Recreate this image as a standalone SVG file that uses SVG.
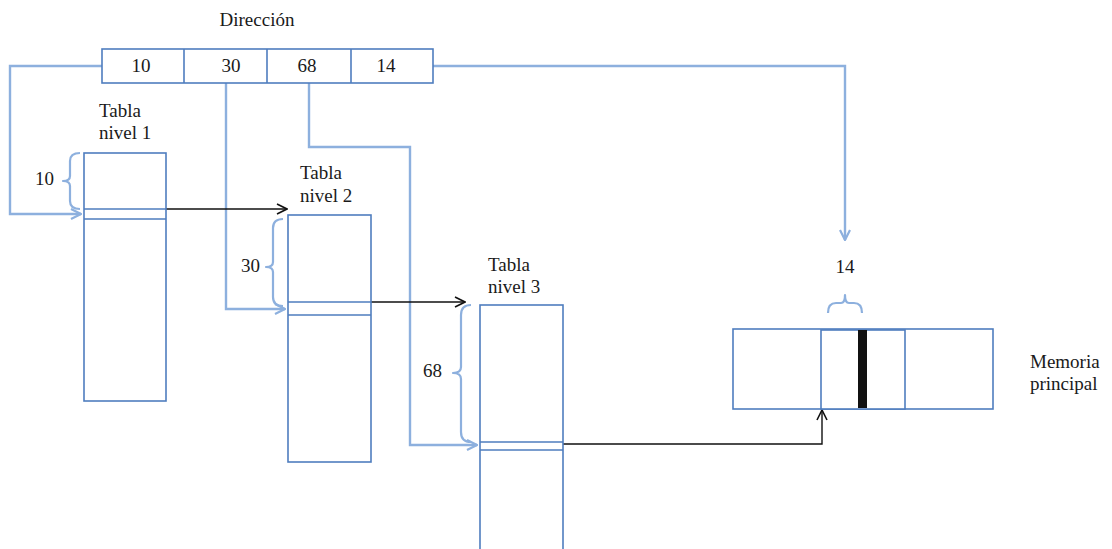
<svg xmlns="http://www.w3.org/2000/svg" width="1112" height="549" viewBox="0 0 1112 549">
  <style>
    text { font-family: "Liberation Serif", "Times New Roman", serif; font-size: 19px; fill: #1a1a1a; }
    .box { fill: #ffffff; stroke: #4f7dbf; stroke-width: 1.6; }
    .div { fill: none; stroke: #4f7dbf; stroke-width: 1.6; }
    .link { fill: none; stroke: #8db0de; stroke-width: 2.4; }
    .brace { fill: none; stroke: #8db0de; stroke-width: 2.2; stroke-linejoin: round; }
    .ptr { fill: none; stroke: #111111; stroke-width: 1.4; }
  </style>
  <defs>
    <marker id="headBlack" viewBox="0 0 12 12" refX="11" refY="6" markerWidth="12" markerHeight="12" markerUnits="userSpaceOnUse" orient="auto">
      <path d="M1,1 L11,6 L1,11" fill="none" stroke="#111111" stroke-width="1.6"/>
    </marker>
    <marker id="headBlue" viewBox="0 0 12 12" refX="11" refY="6" markerWidth="12" markerHeight="12" markerUnits="userSpaceOnUse" orient="auto">
      <path d="M1,1 L11,6 L1,11" fill="none" stroke="#8db0de" stroke-width="2.2"/>
    </marker>
  </defs>

  <rect width="1112" height="549" fill="#ffffff"/>

  <!-- connectors -->
  <g id="connectors">
    <!-- address fields to their tables / memory -->
    <path class="link" d="M102,66 H10 V214 H81" marker-end="url(#headBlue)"/>
    <path class="link" d="M226,83 V309 H285" marker-end="url(#headBlue)"/>
    <path class="link" d="M309,83 V147 H410 V445 H477" marker-end="url(#headBlue)"/>
    <path class="link" d="M433,66 H845 V240" marker-end="url(#headBlue)"/>
    <!-- table entries pointing to next level -->
    <path class="ptr" d="M162,209 H287" marker-end="url(#headBlack)"/>
    <path class="ptr" d="M354,302 H465" marker-end="url(#headBlack)"/>
    <path class="ptr" d="M563,444 H822 V410" marker-end="url(#headBlack)"/>
  </g>

  <!-- virtual address -->
  <g id="direccion">
    <text x="257" y="26" text-anchor="middle">Dirección</text>
    <rect class="box" x="102" y="49" width="331" height="34"/>
    <path class="div" d="M184,49 V83 M267,49 V83 M351,49 V83"/>
    <text x="141" y="72" text-anchor="middle">10</text>
    <text x="231" y="72" text-anchor="middle">30</text>
    <text x="307" y="72" text-anchor="middle">68</text>
    <text x="386" y="72" text-anchor="middle">14</text>
  </g>

  <!-- level 1 table -->
  <g id="tabla1">
    <text x="99" y="117">Tabla</text>
    <text x="99" y="139">nivel 1</text>
    <rect class="box" x="84" y="153" width="82" height="248"/>
    <path class="div" d="M84,209 H166 M84,219 H166"/>
    <path class="brace" d="M80,153 Q70,153 70,161 V176 Q70,181 63,181 Q70,181 70,186 V201 Q70,209 80,209"/>
    <text x="35" y="185">10</text>
  </g>

  <!-- level 2 table -->
  <g id="tabla2">
    <text x="300" y="179">Tabla</text>
    <text x="300" y="202">nivel 2</text>
    <rect class="box" x="288" y="215" width="83" height="247"/>
    <path class="div" d="M288,302 H371 M288,315 H371"/>
    <path class="brace" d="M283,219 Q273,219 273,228 V262 Q273,267 266,267 Q273,267 273,272 V297 Q273,306 283,306"/>
    <text x="241" y="272">30</text>
  </g>

  <!-- level 3 table -->
  <g id="tabla3">
    <text x="488" y="271">Tabla</text>
    <text x="488" y="293">nivel 3</text>
    <rect class="box" x="480" y="305" width="83" height="250"/>
    <path class="div" d="M480,442 H563 M480,450 H563"/>
    <path class="brace" d="M471,305 Q461,305 461,315 V367 Q461,373 453,373 Q461,373 461,379 V432 Q461,442 471,442"/>
    <text x="423" y="377">68</text>
  </g>

  <!-- main memory -->
  <g id="memoria">
    <text x="845" y="273" text-anchor="middle">14</text>
    <path class="brace" d="M828,313 Q828,303 836,303 H841 Q845,303 845,295 Q845,303 849,303 H854 Q862,303 862,313"/>
    <rect class="box" x="733" y="329" width="260" height="80"/>
    <rect class="box" x="821" y="330" width="84" height="79" stroke-width="2"/>
    <rect x="858" y="330" width="9" height="78" fill="#111111"/>
    <text x="1030" y="368">Memoria</text>
    <text x="1030" y="390">principal</text>
  </g>
</svg>
